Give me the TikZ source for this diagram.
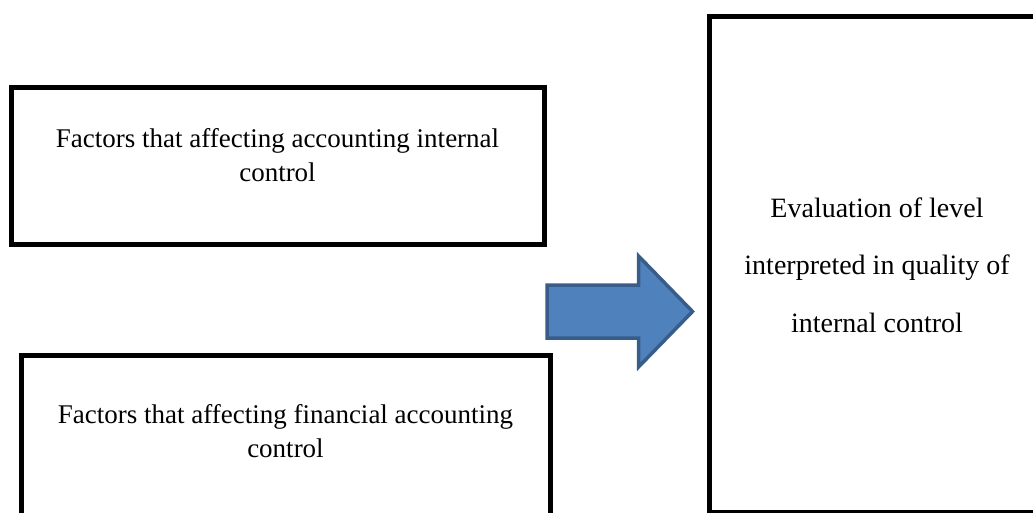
\documentclass[tikz,border=0pt]{standalone}
\usepackage{fontspec}
\setmainfont{Liberation Serif}
\definecolor{arrowfill}{HTML}{4F81BD}
\definecolor{arrowline}{HTML}{385D8A}
\begin{document}
\begin{tikzpicture}[x=1pt,y=-1pt,
  box/.style={draw=black, line width=5pt, inner sep=0pt, anchor=north west},
  lbl/.style={font=\fontsize{27}{34}\selectfont, align=center, inner sep=0pt, anchor=base},
  lblwide/.style={font=\fontsize{28}{57.5}\selectfont, align=center, inner sep=0pt, anchor=base},
  bigarrow/.style={fill=arrowfill, draw=arrowline, line width=3.5pt, line join=miter}]
\useasboundingbox (0,0) rectangle (1033,512);
\clip (0,0) rectangle (1033,512);
\node[box, minimum width=533pt, minimum height=157pt] (f1) at (8.5,84.5) {};
\node[box, minimum width=529pt, minimum height=200pt] (f2) at (18.5,352.5) {};
\node[box, minimum width=336pt, minimum height=496pt] (ev) at (706.5,14) {};
\node[lbl] (t1) at ([yshift=-96.5pt]f1.north) {Factors that affecting accounting internal\\control};
\node[lbl] (t2) at ([yshift=-104.5pt]f2.north) {Factors that affecting financial accounting\\control};
\node[lblwide] (t3) at ([yshift=-318pt]ev.north) {Evaluation of level\\interpreted in quality of\\internal control};
\draw[bigarrow] (547,285) -- (638.5,285) -- (638.5,256) -- (692.5,311.5) -- (638.5,367) -- (638.5,338) -- (547,338) -- cycle;
\end{tikzpicture}
\end{document}
